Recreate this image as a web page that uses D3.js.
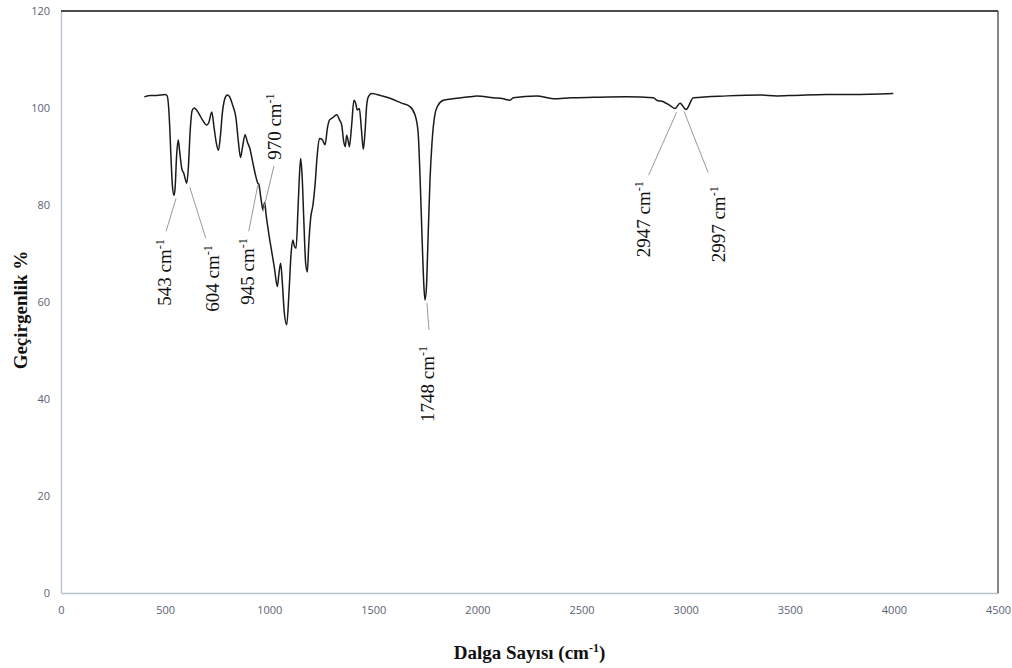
<!DOCTYPE html>
<html lang="tr">
<head>
  <meta charset="UTF-8">
  <title>FTIR</title>
  <script src="https://d3js.org/d3.v7.min.js"></script>
  <style>
    body { margin: 0; background: #fff; }
    svg text { font-family: "Liberation Serif", serif; }
  </style>
</head>
<body>
  <div id="chart"></div>
  <script>
    // spektrum verisi (dalga sayısı, geçirgenlik %)
    const waveNumbers = [400, 430, 460, 500, 510, 520, 528, 535, 543, 548, 555, 563, 570, 580, 590, 604, 612, 620, 630, 640, 660, 680, 700, 710, 724, 735, 745, 756, 765, 775, 790, 799, 810, 825, 840, 852, 862, 872, 884, 895, 908, 920, 935, 945, 950, 958, 965, 970, 978, 985, 1000, 1012, 1025, 1039, 1047, 1055, 1063, 1072, 1084, 1095, 1105, 1113, 1121, 1129, 1138, 1145, 1151, 1158, 1166, 1175, 1183, 1190, 1199, 1210, 1220, 1230, 1241, 1255, 1268, 1280, 1289, 1305, 1324, 1338, 1348, 1358, 1365, 1372, 1380, 1385, 1395, 1407, 1415, 1423, 1433, 1442, 1452, 1460, 1468, 1476, 1492, 1540, 1580, 1636, 1676, 1700, 1715, 1725, 1735, 1742, 1748, 1755, 1762, 1772, 1782, 1795, 1810, 1836, 1900, 1964, 1996, 2076, 2124, 2156, 2172, 2285, 2364, 2450, 2557, 2717, 2845, 2861, 2893, 2925, 2949, 2973, 3002, 3037, 3197, 3357, 3437, 3520, 3677, 3800, 3997];
    const transmittance = [102.3, 102.6, 102.6, 102.8, 102.5, 98, 90, 84, 82, 83.5, 90, 93.4, 91, 87.5, 86.5, 84.5, 88, 95, 99.5, 100, 99, 97.5, 96.5, 97, 99.2, 96, 93, 91.3, 94, 99, 102.3, 102.7, 102.3, 100.5, 98, 93, 89.8, 92, 94.5, 93, 91.5, 89, 86, 84.5, 84.3, 82, 80, 79, 80.5, 78, 73.5, 70.4, 67, 63.2, 66, 68, 64, 58, 55.3, 62, 70, 72.8, 71.5, 71.1, 79, 86, 89.6, 86, 77, 68, 66.2, 72, 77.3, 80, 84.1, 90, 93.7, 93.5, 92.4, 96, 97.5, 98, 98.6, 97.5, 96.5, 93, 92, 94.4, 93, 92, 96, 101.6, 101, 99.6, 99.9, 96, 91.5, 95, 100.5, 102.3, 103, 102.5, 102, 101, 100.3, 98.6, 95, 85, 72, 64, 60.4, 63, 72, 85, 93, 98.5, 100.5, 101.6, 102, 102.3, 102.5, 102.1, 101.9, 101.6, 102.1, 102.5, 101.9, 102.1, 102.2, 102.3, 102.1, 101.6, 101.3, 100.5, 99.9, 101, 99.7, 102.1, 102.5, 102.7, 102.5, 102.6, 102.8, 102.8, 103];

    const peakWaves = [543, 604, 945, 970, 1748, 2947, 2997];
    const peakLabels = ["543", "604", "945", "970", "1748", "2947", "2997"];

    const xTicks = [0, 500, 1000, 1500, 2000, 2500, 3000, 3500, 4000, 4500];
    const yTicks = [0, 20, 40, 60, 80, 100, 120];

    const width = 1012, height = 668;
    const margin = { top: 11, right: 14, bottom: 75, left: 61 };

    const svg = d3.select("#chart").append("svg")
      .attr("width", width).attr("height", height);

    const x = d3.scaleLinear().domain([0, 4500]).range([margin.left, width - margin.right]);
    const y = d3.scaleLinear().domain([0, 120]).range([height - margin.bottom, margin.top]);

    const tickColor = "#5a6375";
    const axisColor = "#b9c0cd";

    // eksenler
    const xAxis = svg.append("g")
      .attr("transform", `translate(0,${y(0)})`)
      .call(d3.axisBottom(x).tickValues(xTicks).tickFormat(d3.format("d")).tickSize(0).tickPadding(13));
    const yAxis = svg.append("g")
      .attr("transform", `translate(${x(0)},0)`)
      .call(d3.axisLeft(y).tickValues(yTicks).tickFormat(d3.format("d")).tickSize(0).tickPadding(11));

    [xAxis, yAxis].forEach(g => {
      g.select(".domain").attr("stroke", axisColor).attr("stroke-width", 1.3);
      g.selectAll("text")
        .attr("fill", tickColor)
        .style("font-family", "'Open Sans', sans-serif")
        .style("font-size", "11px");
    });

    // üst ve sağ çerçeve
    svg.append("line")
      .attr("x1", x(0)).attr("x2", x(4500))
      .attr("y1", y(120)).attr("y2", y(120))
      .attr("stroke", "#111").attr("stroke-width", 1.6);
    svg.append("line")
      .attr("x1", x(4500)).attr("x2", x(4500))
      .attr("y1", y(120)).attr("y2", y(0))
      .attr("stroke", "#444").attr("stroke-width", 1.3);

    // spektrum
    const points = waveNumbers.map((w, i) => [w, transmittance[i]]);
    const line = d3.line()
      .x(d => x(d[0]))
      .y(d => y(d[1]))
      .curve(d3.curveMonotoneX);

    svg.append("path")
      .datum(points)
      .attr("fill", "none")
      .attr("stroke", "#1a1a1a")
      .attr("stroke-width", 1.5)
      .attr("d", line);

    // pik etiketleri: çizgi ucu ve yazı konumu (piksel kaydırma)
    const valueAt = w => {
      const i = d3.bisectLeft(waveNumbers, w);
      if (waveNumbers[i] === w) return transmittance[i];
      const t = (w - waveNumbers[i - 1]) / (waveNumbers[i] - waveNumbers[i - 1]);
      return transmittance[i - 1] + t * (transmittance[i] - transmittance[i - 1]);
    };
    const layout = [
      { sx: 2, sy: 3, ex: -10, ey: 33, tx: -12, ty: 41, up: false },
      { sx: 3, sy: 4, ex: 16, ey: 51, tx: 23, ty: 58, up: false },
      { sx: 0, sy: 2, ex: -9, ey: 46, tx: -10, ty: 53, up: false },
      { sx: 0, sy: 2, ex: 11, ey: -46, tx: 11, ty: -52, up: true },
      { sx: 2, sy: 3, ex: 2, ey: 27, tx: 0, ty: 43, up: false },
      { sx: 2, sy: 4, ex: -28, ey: 63, tx: -33, ty: 69, up: false },
      { sx: -1, sy: 3, ex: 24, ey: 61, tx: 34, ty: 75, up: false }
    ];

    peakWaves.forEach((w, i) => {
      const L = layout[i];
      const px = x(w) + L.sx, py = y(valueAt(w)) + L.sy;
      svg.append("line")
        .attr("x1", px).attr("y1", py)
        .attr("x2", px + L.ex).attr("y2", py + L.ey)
        .attr("stroke", "#9a9a9a").attr("stroke-width", 1);
      const tx = px + L.tx, ty = py + L.ty;
      const t = svg.append("text")
        .attr("transform", `translate(${tx},${ty + 0}) rotate(-90)`)
        .attr("text-anchor", L.up ? "start" : "end")
        .attr("dy", "0.35em")
        .attr("fill", "#111")
        .style("font-size", "19px");
      t.append("tspan").text(peakLabels[i] + " cm");
      t.append("tspan").attr("dy", -7).style("font-size", "12px").text("-1");
    });

    // eksen başlıkları
    svg.append("text")
      .attr("transform", `translate(20,${(y(0) + y(120)) / 2 + 8}) rotate(-90)`)
      .attr("text-anchor", "middle")
      .attr("dy", "0.35em")
      .attr("font-weight", "bold")
      .attr("fill", "#111")
      .style("font-size", "19px")
      .text("Geçirgenlik %");

    const xTitle = svg.append("text")
      .attr("x", (x(0) + x(4500)) / 2)
      .attr("y", 659)
      .attr("text-anchor", "middle")
      .attr("font-weight", "bold")
      .attr("fill", "#111")
      .style("font-size", "19px");
    xTitle.append("tspan").text("Dalga Sayısı (cm");
    xTitle.append("tspan").attr("dy", -7).style("font-size", "12px").text("-1");
    xTitle.append("tspan").attr("dy", 7).text(")");
  </script>
</body>
</html>
